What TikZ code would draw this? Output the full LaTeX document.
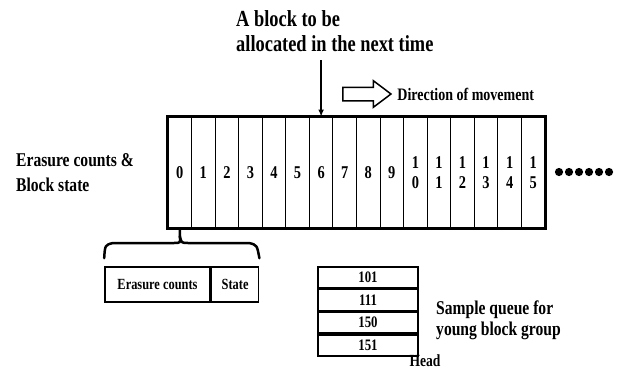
\documentclass[tikz,border=0pt]{standalone}
\usepackage{fontspec}
\setmainfont[FakeStretch=0.8]{Liberation Serif}
\usetikzlibrary{positioning,arrows.meta,shapes}

\begin{document}
\begin{tikzpicture}[
    x=1pt, y=-1pt,
    cell/.style={draw, line width=0.9pt, minimum width=23.56pt, minimum height=111pt,
                 inner sep=0pt, align=center, font=\fontsize{18}{19.5}\selectfont\bfseries},
    field/.style={draw, line width=1.6pt, minimum height=35pt, inner sep=0pt,
                  font=\fontsize{15.5}{17}\selectfont\bfseries},
    qbox/.style={draw, line width=1.6pt, minimum width=100pt, minimum height=21pt, inner sep=0pt,
                 font=\fontsize{16}{17}\selectfont\bfseries},
    lbl/.style={align=left, inner sep=0pt, font=\fontsize{19.5}{25}\selectfont\bfseries},
    ar/.style={-{Latex[length=7pt,width=6pt]}, line width=1.4pt},
]
\useasboundingbox (0,0) rectangle (624,370);

% Block array (erasure counts and block state of each block).
\foreach \i/\lab in {0/0,1/1,2/2,3/3,4/4,5/5,6/6,7/7,8/8,9/9,
                     10/{1\\0},11/{1\\1},12/{1\\2},13/{1\\3},14/{1\\4},15/{1\\5}}
    \node[cell] (c\i) at ({168+23.56*(\i+0.5)},172.5) {\lab};
\draw[line width=2.2pt] (c0.north west) rectangle (c15.south east);
\foreach \k in {0,...,5}
    \fill ({559+10*\k},172) circle (4.1pt);

\node[lbl, anchor=west] (side) at (16,173) {Erasure counts \&\\Block state};

% Pointer to the next block to be allocated.
\node[lbl, anchor=west, font=\fontsize{23}{25}\selectfont\bfseries] (title) at (236,31)
    {A block to be\\allocated in the next time};
\coordinate (tip) at (c6.north |- 0,60);
\draw[ar] (tip) -- (c6.north);

% Direction of movement.
\node[single arrow, draw, line width=1.5pt, minimum height=48pt, minimum width=25pt,
      single arrow head extend=6.5pt, single arrow tip angle=74, inner xsep=0pt, inner ysep=6pt]
    (dir) at (362.5,94) {};
\node[anchor=west, inner sep=0pt, font=\fontsize{17.5}{20}\selectfont\bfseries, right=5pt of dir] (dirlbl)
    {Direction of movement};

% Layout of one entry.
\node[field, minimum width=105pt] (ec) at (157.5,284.5) {Erasure counts};
\node[field, minimum width=47pt, right=0pt of ec] (st) {State};
\draw[line width=2.5pt, line cap=round]
    (ec.north west) ++(0,-8) .. controls (105,245) .. (113,243) -- (174,243)
    .. controls (180.5,243) .. (c0.south |- 0,236) -- (c0.south);
\draw[line width=2.5pt, line cap=round]
    (st.north east) ++(0,-8) .. controls (257,245) .. (249,243) -- (188,243)
    .. controls (181.5,243) .. (c0.south |- 0,236);

% Sample queue for the young block group.
\node[qbox] (q1) at (368,277.5) {101};
\node[qbox, below=0pt of q1] (q2) {111};
\node[qbox, below=0pt of q2] (q3) {150};
\node[qbox, below=0pt of q3] (q4) {151};
\node[lbl, anchor=west, font=\fontsize{19.5}{21}\selectfont\bfseries] (qlbl) at (436,320)
    {Sample queue for\\young block group};
\node[inner sep=0pt, font=\fontsize{17}{18}\selectfont\bfseries] (head) at (425,361) {Head};
\end{tikzpicture}
\end{document}
